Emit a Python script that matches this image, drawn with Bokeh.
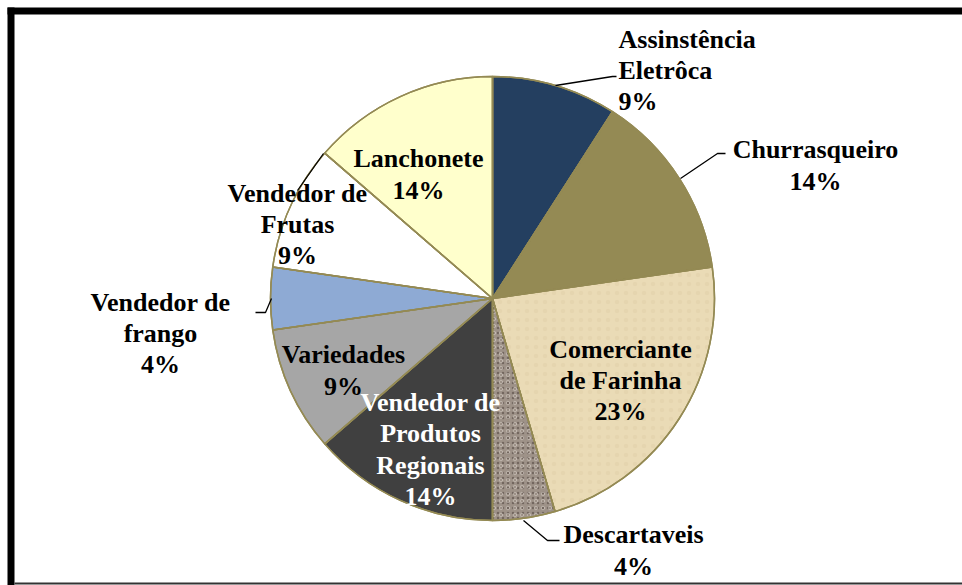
import math
from bokeh.plotting import figure
from bokeh.models import Range1d, ColumnDataSource
from bokeh.core.properties import value
from bokeh.embed import file_html
from bokeh.resources import INLINE

# ---- data ----
categories = ["Assinstência Eletrôca", "Churrasqueiro", "Comerciante de Farinha",
              "Descartaveis", "Vendedor de Produtos Regionais", "Variedades",
              "Vendedor de frango", "Vendedor de Frutas", "Lanchonete"]
counts = [2, 3, 5, 1, 3, 2, 1, 2, 3]
pct_labels = ["9%", "14%", "23%", "4%", "14%", "9%", "4%", "9%", "14%"]
label_lines = ["Assinstência\nEletrôca", "Churrasqueiro", "Comerciante\nde Farinha",
               "Descartaveis", "Vendedor de\nProdutos\nRegionais", "Variedades",
               "Vendedor de\nfrango", "Vendedor de\nFrutas", "Lanchonete"]

# ---- styles / layout ----
colors = ["#243F60", "#948A54", "#EADBB6", "#9E9288", "#404040", "#A6A6A6",
          "#8EAAD4", "#FFFFFF", "#FFFFCC"]
text_colors = ["black", "black", "black", "black", "white", "black", "black", "black", "black"]
# label anchor in page pixels (x, y) and alignment
label_pos = [(618, 70, "left"), (815, 165, "center"), (620, 380, "center"),
             (633, 550, "center"), (430, 449, "center"), (343, 370, "center"),
             (160, 333, "center"), (297, 224, "center"), (418, 174, "center")]
leaders = {
    0: [(555, 85), (612, 76), (616, 76)],
    1: [(680, 178), (717, 153), (725, 153)],
    3: [(523, 520), (547, 540), (559, 540)],
    6: [(255, 312), (265, 312), (271, 298)],
    7: [(297, 190), (323, 153)],
}

W, H = 962, 585
cx, cy, R = 492, 298, 222


def fy(sy):
    return H - sy


p = figure(width=W, height=H, output_backend="svg", toolbar_location=None,
           x_range=Range1d(0, W), y_range=Range1d(0, H), min_border=0)
p.axis.visible = False
p.grid.visible = False
p.outline_line_color = None
p.background_fill_color = "white"

total = sum(counts)
starts, ends = [], []
cum = 0
for c in counts:
    starts.append(math.pi / 2 - cum / total * 2 * math.pi)
    cum += c
    ends.append(math.pi / 2 - cum / total * 2 * math.pi)

src = ColumnDataSource(dict(start=starts, end=ends, color=colors, cat=categories))
p.wedge(x=cx, y=fy(cy), radius=R, start_angle="start", end_angle="end",
        direction="clock", fill_color="color", line_color="#948A54", line_width=1.5,
        source=src)

# granite texture for Descartaveis
i = 3
p.wedge(x=cx, y=fy(cy), radius=R - 1, start_angle=starts[i], end_angle=ends[i],
        direction="clock", fill_alpha=0, line_color=None,
        hatch_pattern="dot", hatch_color="#4E443D", hatch_scale=5, hatch_alpha=0.55)
p.wedge(x=cx, y=fy(cy), radius=R - 1, start_angle=starts[i], end_angle=ends[i],
        direction="clock", fill_alpha=0, line_color=None,
        hatch_pattern="ring", hatch_color="#D8D0C8", hatch_scale=7, hatch_alpha=0.5)
# subtle parchment texture for Comerciante
i = 2
p.wedge(x=cx, y=fy(cy), radius=R - 1, start_angle=starts[i], end_angle=ends[i],
        direction="clock", fill_alpha=0, line_color=None,
        hatch_pattern="dot", hatch_color="#D9C79E", hatch_scale=9, hatch_alpha=0.3)
# re-draw edges
p.wedge(x=cx, y=fy(cy), radius=R, start_angle="start", end_angle="end",
        direction="clock", fill_alpha=0, line_color="#948A54", line_width=1.5,
        source=src)

# leader lines
for k, pts in leaders.items():
    p.line([q[0] for q in pts], [fy(q[1]) for q in pts], line_color="black", line_width=1.3)

# labels
for k in range(len(categories)):
    x, y, al = label_pos[k]
    txt = label_lines[k] + "\n" + pct_labels[k]
    p.text(x=[x], y=[fy(y)], text=[txt], text_align=al, text_baseline="middle",
           text_font=value("Liberation Serif"), text_font_style="bold",
           text_font_size="26px", text_color=text_colors[k], text_line_height=1.08)

# frame (thick black on left/top, thin line at bottom)
p.quad(left=[7, 7], right=[14, W], bottom=[0, fy(14)],
       top=[fy(7), fy(7)], fill_color="black", line_color=None)
p.quad(left=[14], right=[W], bottom=[fy(584)], top=[fy(582)],
       fill_color="#333333", line_color=None)

open("out.html", "w").write(file_html(p, INLINE))
